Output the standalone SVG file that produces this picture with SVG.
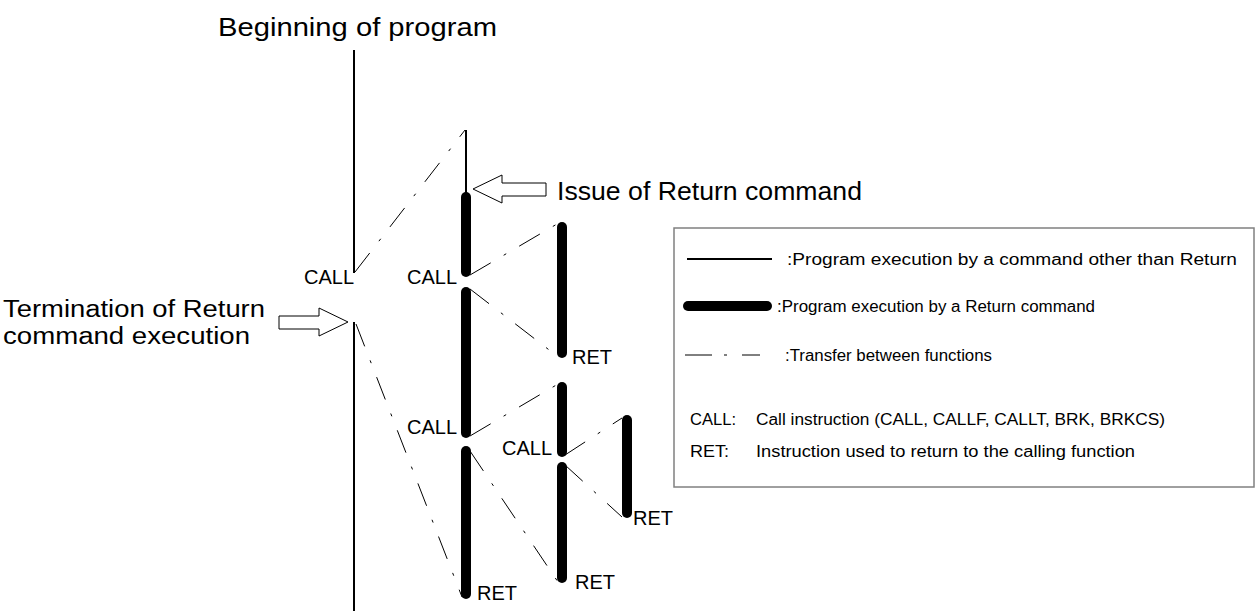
<svg xmlns="http://www.w3.org/2000/svg" width="1259" height="611" viewBox="0 0 1259 611">
<style>
text{font-family:"Liberation Sans",Arial,sans-serif;fill:#000}
.big{font-size:26px}
.side{font-size:23px}
.lbl{font-size:20px}
.leg{font-size:16px}
.thin{stroke:#000;stroke-width:2;fill:none}
.thick{stroke:#000;stroke-width:10;stroke-linecap:round;fill:none}
.dd{stroke:#000;stroke-width:1;fill:none;stroke-dasharray:24 15 3 15}
.arr{fill:#fff;stroke:#000;stroke-width:1}
</style>
<rect width="1259" height="611" fill="#fff"/>
<text class="big" x="218" y="36" textLength="279" lengthAdjust="spacingAndGlyphs">Beginning of program</text>

<g id="main">
<line class="thin" x1="354" y1="50" x2="354" y2="273"/>
<line class="thin" x1="354" y1="322" x2="354" y2="611"/>
</g>
<g id="funcB">
<line class="thin" x1="466" y1="130" x2="466" y2="195"/>
<line class="thick" x1="466" y1="197" x2="466" y2="272"/>
<line class="thick" x1="466" y1="292" x2="466" y2="433"/>
<line class="thick" x1="466" y1="451" x2="466" y2="594"/>
</g>
<g id="funcC">
<line class="thick" x1="562" y1="227" x2="562" y2="353"/>
<line class="thick" x1="562" y1="387" x2="562" y2="452"/>
<line class="thick" x1="562" y1="467" x2="562" y2="578"/>
</g>
<g id="funcD">
<line class="thick" x1="627" y1="420" x2="627" y2="513"/>
</g>

<g id="connectors">
<line class="dd" x1="355" y1="272" x2="465" y2="130"/>
<line class="dd" x1="470" y1="275" x2="557" y2="224"/>
<line class="dd" x1="470" y1="289" x2="557" y2="356"/>
<line class="dd" x1="356" y1="324" x2="462" y2="597"/>
<line class="dd" x1="470" y1="436" x2="558" y2="384"/>
<line class="dd" x1="470" y1="451" x2="558" y2="582"/>
<line class="dd" x1="565" y1="455" x2="622" y2="418"/>
<line class="dd" x1="565" y1="465" x2="622" y2="517"/>
</g>

<g id="labels">
<text class="lbl" x="304" y="284">CALL</text>
<text class="lbl" x="407" y="284">CALL</text>
<text class="lbl" x="407" y="434">CALL</text>
<text class="lbl" x="502" y="455">CALL</text>
<text class="lbl" x="572" y="364">RET</text>
<text class="lbl" x="633" y="525">RET</text>
<text class="lbl" x="477" y="600">RET</text>
<text class="lbl" x="575" y="589">RET</text>
</g>

<g id="issue-arrow">
<path class="arr" d="M473,189 L502,175 L502,183 L546,183 L546,196 L502,196 L502,203 Z"/>
<text class="big" x="557" y="200" textLength="305" lengthAdjust="spacingAndGlyphs">Issue of Return command</text>
</g>
<g id="termination-arrow">
<path class="arr" d="M348,322 L319,308 L319,316 L279,316 L279,329 L319,329 L319,336 Z"/>
<text class="side" x="3" y="317" textLength="262" lengthAdjust="spacingAndGlyphs">Termination of Return</text>
<text class="side" x="3" y="344" textLength="247" lengthAdjust="spacingAndGlyphs">command execution</text>
</g>

<g id="legend">
<rect x="674" y="228" width="580" height="259" fill="#fff" stroke="#808080" stroke-width="1.5"/>
<line x1="687" y1="259" x2="772" y2="259" stroke="#000" stroke-width="2"/>
<text class="leg" x="787" y="265" textLength="450" lengthAdjust="spacingAndGlyphs">:Program execution by a command other than Return</text>
<line class="thick" x1="688" y1="306" x2="767" y2="306"/>
<text class="leg" x="777" y="312" textLength="318" lengthAdjust="spacingAndGlyphs">:Program execution by a Return command</text>
<g stroke="#000" stroke-width="1">
<line x1="685" y1="355" x2="712" y2="355"/>
<line x1="724" y1="355" x2="727" y2="355"/>
<line x1="742" y1="355" x2="760" y2="355"/>
</g>
<text class="leg" x="785" y="361" textLength="207" lengthAdjust="spacingAndGlyphs">:Transfer between functions</text>
<text class="leg" x="690" y="425" textLength="46" lengthAdjust="spacingAndGlyphs">CALL:</text>
<text class="leg" x="756" y="425" textLength="409" lengthAdjust="spacingAndGlyphs">Call instruction (CALL, CALLF, CALLT, BRK, BRKCS)</text>
<text class="leg" x="690" y="457" textLength="39" lengthAdjust="spacingAndGlyphs">RET:</text>
<text class="leg" x="756" y="457" textLength="379" lengthAdjust="spacingAndGlyphs">Instruction used to return to the calling function</text>
</g>
</svg>
